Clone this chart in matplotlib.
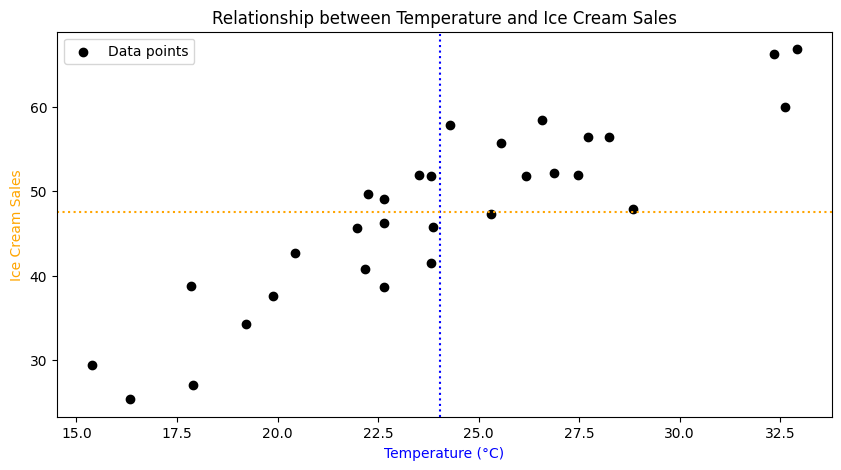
import numpy as np
import matplotlib.pyplot as plt

# Datos
temperature = [24.28, 23.52, 23.81, 22.24, 22.66, 21.97, 22.64, 23.86,
               25.55, 26.57, 26.19, 26.87, 27.47, 27.72, 28.24, 25.32,
               28.84, 32.34, 32.91, 32.62,
               20.43, 22.17, 23.81, 17.84, 22.65, 19.90, 19.21, 15.39,
               17.90, 16.33]
ice_cream_sales = [57.83, 51.90, 51.80, 49.64, 49.05, 45.61, 46.24, 45.77,
                   55.73, 58.42, 51.78, 52.13, 51.90, 56.40, 56.40, 47.27,
                   47.86, 66.25, 66.84, 59.96,
                   42.64, 40.75, 41.46, 38.73, 38.61, 37.54, 34.22, 29.36,
                   26.99, 25.33]

fig, ax = plt.subplots(figsize=(10, 5), dpi=100)
ax.scatter(temperature, ice_cream_sales, color='black', label='Data points')

# Lineas en la media
ax.axvline(np.mean(temperature), color='blue', linestyle=':')
ax.axhline(np.mean(ice_cream_sales), color='orange', linestyle=':')

ax.set_xlabel('Temperature (°C)', color='blue')
ax.set_ylabel('Ice Cream Sales', color='orange')
ax.set_title('Relationship between Temperature and Ice Cream Sales')
ax.legend(loc='upper left')

plt.savefig('out.png', bbox_inches='tight')
